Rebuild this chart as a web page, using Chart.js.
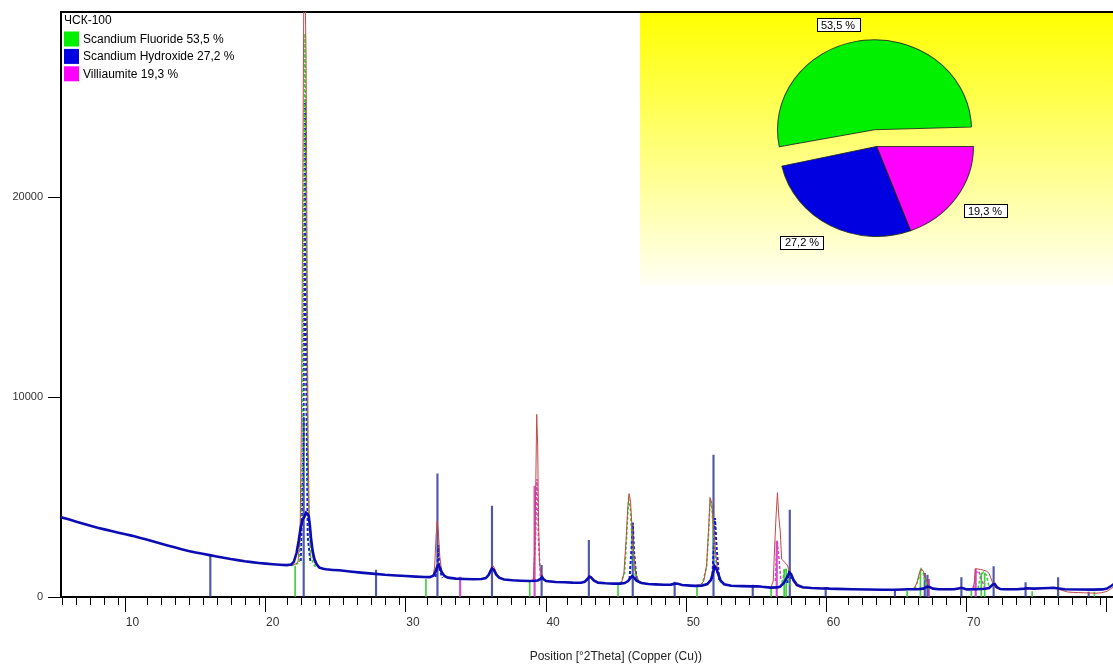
<!DOCTYPE html>
<html>
<head>
<meta charset="utf-8">
<script src="https://cdn.jsdelivr.net/npm/chart.js@4.4.1/dist/chart.umd.min.js"></script>
<style>
  html, body { margin: 0; padding: 0; background: #fff; }
  body { width: 1113px; height: 665px; overflow: hidden; position: relative; }
  #main { position: absolute; left: 0; top: 0; }
  #panel { position: absolute; left: 640px; top: 13px; width: 473px; height: 272px;
           background: linear-gradient(#ffff00, #fffff4); }
  #pie { position: absolute; left: 0; top: 0; }
</style>
</head>
<body>
<canvas id="main" width="1173" height="665"></canvas>
<div id="panel"><canvas id="pie" width="473" height="267"></canvas></div>
<script>
// ---------------- data ----------------
const sampleName = 'ЧСК-100';
const phaseNames = ['Scandium Fluoride', 'Scandium Hydroxide', 'Villiaumite'];
const phasePercent = [53.5, 27.2, 19.3];

const xTickValues = [5,6,7,8,9,10,11,12,13,14,15,16,17,18,19,20,21,22,23,24,25,26,27,28,29,30,31,32,33,34,35,36,37,38,39,40,41,42,43,44,45,46,47,48,49,50,51,52,53,54,55,56,57,58,59,60,61,62,63,64,65,66,67,68,69,70,71,72,73,74,75,76,77,78,79,80,81,82,83,84];
const xTickLabels = [10, 20, 30, 40, 50, 60, 70];
const yTickValues = [0, 10000, 20000];

// observed profile (position °2θ, counts)
const obsAngle = [4.9,5.2,5.5,5.8,6.1,6.4,6.7,7.0,7.3,7.6,7.9,8.2,8.5,8.8,9.1,9.4,9.7,10.0,10.3,10.6,10.9,11.2,11.5,11.8,12.1,12.4,12.7,13.0,13.3,13.6,13.9,14.2,14.5,14.8,15.1,15.4,15.7,16.0,16.3,16.6,16.9,17.2,17.5,17.8,18.1,18.4,18.7,19.0,19.3,19.6,19.9,20.2,20.5,20.8,21.1,21.4,21.6,21.8,21.95,22.05,22.15,22.22,22.3,22.38,22.45,22.52,22.6,22.7,22.85,23.0,23.2,23.5,23.8,24.1,24.4,24.7,25.0,25.3,25.6,25.9,26.2,26.5,26.8,27.1,27.4,27.7,28.0,28.3,28.6,28.9,29.2,29.5,29.8,30.1,30.4,30.7,31.0,31.3,31.45,31.55,31.65,31.73,31.82,31.92,32.05,32.25,32.5,32.8,33.1,33.4,33.7,34.0,34.3,34.6,34.9,35.2,35.4,35.55,35.68,35.8,35.95,36.15,36.4,36.7,37.0,37.3,37.6,37.9,38.2,38.45,38.6,38.7,38.77,38.83,38.9,38.96,39.03,39.12,39.22,39.35,39.6,39.9,40.2,40.5,40.8,41.1,41.4,41.7,42.0,42.25,42.45,42.6,42.75,42.95,43.2,43.5,43.8,44.1,44.4,44.7,44.9,45.05,45.2,45.32,45.42,45.52,45.62,45.75,45.9,46.1,46.4,46.7,47.0,47.3,47.6,47.9,48.2,48.5,48.8,49.0,49.3,49.6,49.9,50.2,50.5,50.75,50.95,51.08,51.2,51.32,51.45,51.58,51.72,51.9,52.2,52.6,53.0,53.4,53.8,54.2,54.6,55.0,55.3,55.55,55.7,55.8,55.9,56.0,56.1,56.2,56.3,56.5,56.7,56.9,57.1,57.35,57.7,58.0,58.4,58.8,59.2,59.6,60.0,60.4,60.8,61.2,61.6,62.0,62.4,62.8,63.2,63.6,64.0,64.4,64.8,65.2,65.5,65.75,65.95,66.1,66.25,66.4,66.55,66.7,66.85,67.0,67.3,67.7,68.1,68.5,68.9,69.1,69.3,69.6,69.9,70.05,70.12,70.3,70.5,70.7,70.9,71.1,71.25,71.4,71.6,71.9,72.3,72.7,73.1,73.5,73.9,74.3,74.7,75.1,75.5,75.9,76.3,76.7,77.1,77.5,77.9,78.3,78.7,79.1,79.5,79.8,80.2];
const obsCounts = [4010,3950,3900,3800,3760,3690,3640,3570,3500,3470,3390,3350,3300,3240,3200,3160,3090,3050,3010,2950,2900,2840,2790,2720,2660,2600,2540,2490,2420,2380,2310,2270,2220,2190,2150,2100,2080,2020,1990,1950,1910,1880,1830,1810,1780,1740,1730,1690,1690,1660,1640,1630,1610,1600,1580,1600,1640,1750,3000,9000,21000,30500,31000,27000,17000,8000,4200,2800,2000,1700,1520,1440,1390,1370,1340,1320,1310,1280,1260,1240,1220,1210,1190,1170,1150,1130,1110,1100,1090,1070,1060,1050,1040,1020,1010,1000,990,1000,1100,1500,3000,3800,3200,2000,1300,1050,960,940,920,910,900,895,890,900,920,980,1150,1400,1590,1480,1200,1000,900,860,840,830,820,810,800,800,900,2500,6000,9140,7600,3800,1800,1200,1100,900,790,760,750,740,730,720,715,710,720,780,950,1085,980,800,720,690,680,670,665,680,760,1200,2800,4400,5170,4800,3600,2200,1200,800,680,640,630,620,610,600,610,640,680,640,590,580,570,580,620,800,1600,3300,4970,4700,3500,2300,1400,850,620,560,550,545,535,525,515,500,480,490,800,2500,4000,5220,4000,3300,1900,1750,1600,1230,800,550,470,450,440,430,420,410,400,395,390,385,380,375,370,370,365,365,360,360,360,365,380,450,700,1150,1420,1300,1000,700,520,420,380,370,365,370,400,440,400,380,390,700,1420,1400,1380,1340,1300,1180,900,600,430,380,370,370,375,380,400,420,430,440,450,430,330,250,230,220,210,200,190,210,280,420,600];

// calculated profile
const calcAngle = [4.9,5.5,6,6.5,7,7.5,8,8.5,9,9.5,10,10.5,11,11.5,12,12.5,13,13.5,14,14.5,15,15.5,16,16.5,17,17.5,18,18.5,19,19.5,20,20.5,21,21.3,21.5,21.7,21.85,22.0,22.14,22.25,22.38,22.5,22.57,22.65,22.74,22.85,22.98,23.15,23.33,23.6,23.8,24.3,24.75,25.5,26.3,27.1,28,28.8,29.5,30.2,30.8,31.2,31.45,31.6,31.72,31.82,31.92,32.05,32.25,32.5,33.06,33.7,34.3,34.9,35.2,35.4,35.55,35.65,35.78,35.95,36.15,36.5,37.1,37.7,38.3,38.7,38.9,39.1,39.2,39.3,39.5,40.18,40.8,41.4,42.0,42.25,42.45,42.58,42.7,42.9,43.2,43.74,44.3,44.8,45.1,45.35,45.55,45.65,45.78,45.95,46.3,46.8,47.3,47.9,48.4,48.7,48.9,49.2,49.8,50.14,50.6,51.0,51.25,51.42,51.52,51.62,51.78,51.95,52.2,52.7,53.5,54.2,54.6,54.9,55.5,56.0,56.2,56.45,56.65,56.85,56.97,57.15,57.4,57.8,58.44,59.2,59.5,59.7,60.3,61.3,62.5,63.5,64.4,65.3,66.0,66.4,66.7,66.85,67.1,67.5,67.94,68.6,68.9,69.1,69.3,69.5,70.2,70.8,71.1,71.35,71.5,71.65,71.9,72.2,73.1,73.6,73.8,74.3,74.9,75.4,75.7,75.9,76.5,77.5,78.5,79.2,79.5,79.8,80.2];
const calcCounts = [3990,3880,3770,3665,3565,3470,3385,3300,3220,3140,3060,2970,2880,2780,2680,2580,2485,2390,2305,2230,2160,2095,2030,1965,1900,1845,1790,1745,1705,1670,1640,1615,1595,1620,1750,2200,2800,3500,3890,4000,4220,4150,4050,3600,2890,2300,1890,1620,1470,1410,1385,1355,1335,1280,1220,1170,1110,1075,1050,1020,1000,995,1060,1250,1500,1590,1480,1250,1050,970,920,900,890,900,950,1100,1320,1435,1350,1120,970,880,835,815,800,810,830,900,1000,900,800,750,735,720,715,760,900,1020,980,830,720,685,670,670,700,800,980,1050,960,820,700,650,630,610,620,670,660,600,570,555,560,650,850,1250,1550,1450,1150,820,640,560,545,530,540,510,470,480,520,700,950,1220,1150,850,600,490,450,425,440,420,405,390,375,365,360,385,390,420,520,500,420,390,385,385,430,460,420,380,390,410,450,620,650,500,400,385,385,420,440,420,440,450,460,440,385,375,370,380,420,550,750];

// individual phase profiles (null = gap)
const fluorideProfileAngle  = [21.3,21.9,22.1,22.22,22.3,22.38,22.5,22.7,23.0,23.8,24.0, 44.8,45.1,45.25,45.38,45.5,45.65,45.85,46.2,46.3, 50.6,50.95,51.1,51.2,51.32,51.5,51.7,52.0,52.1, 56.2,56.4,56.5,56.6,56.75,57.0,57.1, 65.8,66.1,66.25,66.4,66.6,66.9,67.0, 70.3,70.5,70.7,70.9,71.1];
const fluorideProfileCounts = [1560,1700,6000,20000,28200,20000,6000,2000,1550,1380,null, 660,1200,3000,4900,4500,2500,1100,680,null, 560,1500,3300,4800,4500,2500,1200,650,null, 480,900,1400,1400,900,500,null, 400,1000,1400,1200,600,400,null, 420,1100,1250,1100,500];
const hydroxideProfileAngle  = [22.0,22.2,22.3,22.38,22.5,22.7,22.8, 31.6,31.75,31.82,31.9,32.1,32.2, 45.45,45.6,45.68,45.78,45.95,46.0, 51.35,51.48,51.55,51.65,51.85,51.9, 56.7,56.85,57.0];
const hydroxideProfileCounts = [1800,8000,24900,12000,3000,1700,null, 1000,1500,2600,1400,950,null, 900,2500,3720,2200,900,null, 900,2800,3950,2600,800,null, 700,1350,900];
const villiaumiteProfileAngle  = [38.6,38.75,38.85,38.95,39.1,39.2, 55.85,55.98,56.1,56.25,56.3, 70.0,70.15,70.35,70.55,70.8];
const villiaumiteProfileCounts = [850,3000,5900,3000,850,null, 800,2800,2000,800,null, 420,1200,1300,900,420];

// reference stick patterns (position, height)
const fluorideStickAngle  = [21.6,30.93,38.33,44.63,50.26,55.55,56.48,56.62,65.25,66.2,69.83,70.54,70.78,74.17,78.61];
const fluorideStickHeight = [1550,885,800,635,600,435,1390,1390,280,1350,280,1200,1200,270,250];
const hydroxideStickAngle  = [15.55,22.21,27.37,31.75,35.64,39.18,42.55,45.68,48.67,51.44,54.24,56.88,59.44,64.38,66.51,66.7,69.12,71.42,73.7,76.02,78.2];
const hydroxideStickHeight = [2140,9000,1350,6170,4550,1585,2840,3700,750,7100,600,4350,435,385,1185,1100,970,1520,720,970,250];
const villiaumiteStickAngle  = [33.37,38.68,55.95,66.8,70.14];
const villiaumiteStickHeight = [1000,5550,2800,880,1400];

// ---------------- helpers ----------------
const FONT = 'Liberation Sans, Arial, sans-serif';
const pts = (xs, ys) => xs.map((x, i) => ({x: x, y: ys[i]}));
const fmtPct = v => v.toFixed(1).replace('.', ',') + ' %';
const phaseColors = ['#00f000', '#0000e0', '#ff00ff'];

const minorTicks = {
  id: 'minorTicks',
  afterDraw(chart) {
    const s = chart.scales.x, ctx = chart.ctx;
    ctx.save();
    ctx.strokeStyle = '#000'; ctx.lineWidth = 1;
    s.ticks.forEach(t => {
      if (t.value % 10 !== 0) {
        const px = Math.round(s.getPixelForValue(t.value)) + 0.5;
        ctx.beginPath(); ctx.moveTo(px, s.top + 1); ctx.lineTo(px, s.top + 8); ctx.stroke();
      }
    });
    ctx.restore();
  }
};

const phaseLegend = {
  id: 'phaseLegend',
  afterDraw(chart) {
    const a = chart.chartArea, ctx = chart.ctx;
    ctx.save();
    ctx.font = '12px ' + FONT;
    ctx.textBaseline = 'middle';
    ctx.fillStyle = '#000';
    ctx.fillText(sampleName, a.left + 3, a.top + 9);
    phaseNames.forEach((n, i) => {
      const cy = a.top + 27 + i * 17.4;
      ctx.fillStyle = phaseColors[i];
      ctx.fillRect(a.left + 3, cy - 7.5, 15, 15);
      ctx.fillStyle = '#000';
      ctx.fillText(n + ' ' + fmtPct(phasePercent[i]), a.left + 22, cy + 0.5);
    });
    ctx.restore();
  }
};

// ---------------- main chart ----------------
new Chart(document.getElementById('main'), {
  type: 'line',
  data: {
    datasets: [
      { label: 'calculated', data: pts(calcAngle, calcCounts), borderColor: '#0c0cb4', borderWidth: 2.6, pointRadius: 0, tension: 0, order: 0 },
      { label: 'observed', data: pts(obsAngle, obsCounts), borderColor: '#c44848', borderWidth: 1, pointRadius: 0, tension: 0, order: 1 },
      { label: phaseNames[0] + ' profile', data: pts(fluorideProfileAngle, fluorideProfileCounts), borderColor: '#30d030', borderWidth: 1.5, borderDash: [3, 2], pointRadius: 0, tension: 0, order: 2 },
      { label: phaseNames[1] + ' profile', data: pts(hydroxideProfileAngle, hydroxideProfileCounts), borderColor: '#1020d0', borderWidth: 2, borderDash: [3, 2], pointRadius: 0, tension: 0, order: 3 },
      { label: phaseNames[2] + ' profile', data: pts(villiaumiteProfileAngle, villiaumiteProfileCounts), borderColor: '#e040d0', borderWidth: 1.5, borderDash: [3, 2], pointRadius: 0, tension: 0, order: 4 },
      { type: 'bar', label: phaseNames[0] + ' sticks', data: pts(fluorideStickAngle, fluorideStickHeight), backgroundColor: '#40d040', barThickness: 1, grouped: false, order: 5 },
      { type: 'bar', label: phaseNames[1] + ' sticks', data: pts(hydroxideStickAngle, hydroxideStickHeight), backgroundColor: 'rgba(60,70,160,0.9)', barThickness: 1.5, grouped: false, order: 6 },
      { type: 'bar', label: phaseNames[2] + ' sticks', data: pts(villiaumiteStickAngle, villiaumiteStickHeight), backgroundColor: '#d050d0', barThickness: 1.5, grouped: false, order: 7 }
    ]
  },
  options: {
    responsive: false,
    animation: false,
    events: [],
    layout: { padding: { top: 12, bottom: 1, left: 0, right: 0 } },
    plugins: { legend: { display: false }, tooltip: { enabled: false } },
    scales: {
      x: {
        type: 'linear', position: 'bottom', min: 4.9, max: 84.04, offset: false,
        afterBuildTicks: s => { s.ticks = xTickValues.map(v => ({ value: v })); },
        afterFit: s => { s.height = 67; },
        grid: { drawOnChartArea: false, tickLength: 15, tickWidth: 1,
                tickColor: c => (c.tick && c.tick.value % 10 === 0) ? '#000' : 'rgba(0,0,0,0)' },
        border: { color: '#000', width: 2 },
        ticks: { autoSkip: false, maxRotation: 0, padding: 3, color: '#333',
                 font: { family: FONT, size: 12 },
                 callback: v => (xTickLabels.includes(v) ? String(v) : '') },
        title: { display: true, text: 'Position [°2Theta] (Copper (Cu))', color: '#222',
                 font: { family: FONT, size: 12 }, padding: 0 }
      },
      x2: {
        type: 'linear', position: 'top', min: 4.9, max: 84.04,
        afterFit: s => { s.height = 0; },
        grid: { drawOnChartArea: false, drawTicks: false },
        border: { color: '#000', width: 2 },
        ticks: { display: false }
      },
      y: {
        type: 'linear', min: 0, max: 29280,
        afterBuildTicks: s => { s.ticks = yTickValues.map(v => ({ value: v })); },
        afterFit: s => { s.width = 61; },
        grid: { drawOnChartArea: false, tickLength: 13, tickColor: '#000' },
        border: { color: '#000', width: 2 },
        ticks: { padding: 5, color: '#333', font: { family: FONT, size: 11 },
                 callback: v => String(v) }
      }
    }
  },
  plugins: [minorTicks, phaseLegend]
});

// ---------------- pie inset ----------------
const PIE_RADIUS = 93;
const PIE_EXPLODE = 70;            // Chart.js offset units (drawn shift = offset / 4)
const PIE_SCALE = [1.043, 0.967];  // slight horizontal stretch of the inset pie
const labelAngleNudge = [-9.9, 7.5, -2.3]; // label placement tweak per phase (deg)
const labelGap = [38, 29, 30.5];           // label distance beyond rim per phase (px)
const pieOrder = [2, 1, 0]; // clockwise from 3 o'clock

const pieShape = {
  id: 'pieShape',
  beforeDatasetsDraw(chart) {
    const meta = chart.getDatasetMeta(0);
    // keep the exploded slice at the same radius as the others
    meta.data.forEach((arc, i) => {
      const grow = (chart.data.datasets[0].offset[i] || 0) / 4;
      arc.outerRadius = PIE_RADIUS - grow;
    });
    const a = chart.chartArea, ctx = chart.ctx;
    const cx = (a.left + a.right) / 2, cy = (a.top + a.bottom) / 2;
    ctx.save();
    ctx.translate(cx, cy); ctx.scale(PIE_SCALE[0], PIE_SCALE[1]); ctx.translate(-cx, -cy);
  },
  afterDatasetsDraw(chart) { chart.ctx.restore(); }
};

const pieLabels = {
  id: 'pieLabels',
  afterDatasetsDraw(chart) {
    const meta = chart.getDatasetMeta(0), ctx = chart.ctx;
    ctx.save();
    ctx.font = '11px ' + FONT;
    ctx.textAlign = 'center'; ctx.textBaseline = 'middle';
    meta.data.forEach((arc, i) => {
      const p = arc.getProps(['startAngle', 'endAngle', 'x', 'y'], true);
      const ph = pieOrder[i];
      const mid = (p.startAngle + p.endAngle) / 2 + labelAngleNudge[ph] * Math.PI / 180;
      const d = PIE_RADIUS + labelGap[ph];
      const cx = p.x + Math.cos(mid) * d * PIE_SCALE[0], cy = p.y + Math.sin(mid) * d * PIE_SCALE[1];
      const txt = fmtPct(phasePercent[ph]);
      const w = Math.round(ctx.measureText(txt).width) + 9, h = 13;
      const bx = Math.round(cx - w / 2) + 0.5, by = Math.round(cy - h / 2) + 0.5;
      ctx.fillStyle = '#fff'; ctx.fillRect(bx, by, w, h);
      ctx.strokeStyle = '#000'; ctx.lineWidth = 1; ctx.strokeRect(bx, by, w, h);
      ctx.fillStyle = '#000'; ctx.fillText(txt, Math.round(cx), Math.round(cy) + 0.5);
    });
    ctx.restore();
  }
};

new Chart(document.getElementById('pie'), {
  type: 'pie',
  data: {
    labels: pieOrder.map(i => phaseNames[i]),
    datasets: [{
      data: pieOrder.map(i => phasePercent[i]),
      backgroundColor: pieOrder.map(i => phaseColors[i]),
      borderColor: 'rgba(30,40,30,0.85)',
      borderWidth: 1,
      offset: pieOrder.map(i => (i === 0 ? PIE_EXPLODE : 0))
    }]
  },
  options: {
    responsive: false,
    animation: false,
    events: [],
    radius: PIE_RADIUS,
    rotation: 90,
    layout: { padding: 0 },
    plugins: { legend: { display: false }, tooltip: { enabled: false } }
  },
  plugins: [pieShape, pieLabels]
});
</script>
</body>
</html>
